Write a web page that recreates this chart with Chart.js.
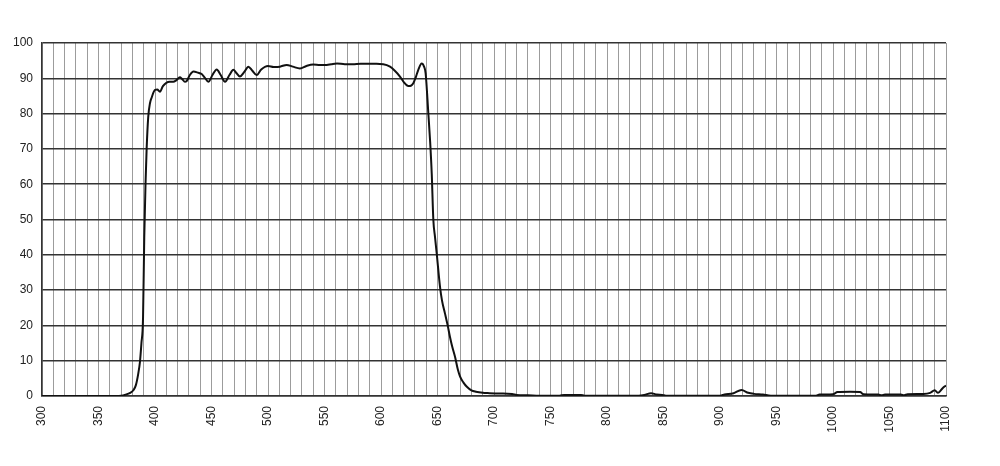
<!DOCTYPE html>
<html>
<head>
<meta charset="utf-8">
<script src="https://cdn.jsdelivr.net/npm/chart.js@4/dist/chart.umd.min.js"></script>
<style>
html,body{margin:0;padding:0;background:#fff;}
#wrap{width:1000px;height:466px;position:relative;}
</style>
</head>
<body>
<div id="wrap"><canvas id="c"></canvas></div>
<script>
const wavelengths = [300,320,340,360,370,374,378,381,383,385,386.7,388,389.4,390.5,391.6,392.6,394,395.6,397,400,402,404.4,407,410.3,413,416.2,419,422,424,426.5,428,431,434,438,441.3,444,447.2,451,454.6,458,462,466,469.3,472,475.2,479,482.6,486,490,494,500,505,510.6,516.5,522,528.3,534,540,546,552,556,561,568,575,582,590,596,602,608,612,616.8,620,624.2,626.5,628.6,631,633,636,638,639.5,641.9,643.5,644.9,646.3,647.8,649.3,652.2,654,656.6,659,661,663,665.5,668,670,673,676,680,684,690,696,705,716,720,730,740,758,762,777,780,800,828,833,839,844,849,852,880,900,904,912,919,925,930,938,945,985,988,1000,1004,1015,1024,1027,1040,1043,1046,1060,1063,1066,1080,1086,1090,1093,1097,1100];
const transmission = [0,0,0,0,0.1,0.4,0.9,1.7,3,6,9.7,15,22,45,60,70,79,83,84.5,86.7,86.8,86.2,87.8,88.8,89,89,89.5,90.3,89.8,89,89.2,91,91.9,91.6,91.2,90.2,89,91,92.5,91,89,91,92.4,91.5,90.5,91.8,93.3,92.2,90.9,92.5,93.5,93.2,93.3,93.8,93.3,92.8,93.5,93.9,93.8,93.8,94,94.2,94,94,94.1,94.1,94.1,94,93.3,92.2,90.5,89,87.8,87.9,88.6,90.5,92.4,94.2,93.4,91.4,80,72,63,50,45,40.4,31,27,23.4,20,16.8,14,11.1,7.5,5.5,3.8,2.6,1.6,1.2,0.9,0.8,0.7,0.6,0.3,0.2,0.1,0.1,0.3,0.3,0.1,0.1,0.1,0.3,0.8,0.4,0.3,0.1,0.1,0.1,0.4,0.8,1.7,0.9,0.6,0.4,0.1,0.1,0.4,0.5,1.1,1.2,1.1,0.5,0.4,0.2,0.4,0.4,0.2,0.5,0.6,0.9,1.6,0.9,2.2,3.0];
const xMin = 300, xMax = 1100, xGridStep = 10, xLabelStep = 50;
const yMin = 0, yMax = 100, yStep = 10;

const points = wavelengths.map((w, i) => ({x: w, y: transmission[i]}));

new Chart(document.getElementById('c'), {
  type: 'line',
  data: {
    datasets: [{
      data: points,
      borderColor: '#111',
      borderWidth: 2,
      pointRadius: 0,
      cubicInterpolationMode: 'monotone',
      fill: false
    }]
  },
  options: {
    responsive: true,
    maintainAspectRatio: false,
    animation: false,
    layout: {padding: {left: 0, top: 43, right: 54, bottom: 0}},
    plugins: {legend: {display: false}, tooltip: {enabled: false}},
    scales: {
      x: {
        type: 'linear',
        min: xMin, max: xMax,
        afterFit: s => { s.height = 70; },
        border: {display: true, color: '#333', width: 1.5},
        grid: {color: '#9c9c9c', lineWidth: 1, drawTicks: false},
        ticks: {
          stepSize: xGridStep,
          autoSkip: false,
          maxRotation: 90, minRotation: 90,
          padding: 10,
          color: '#222',
          font: {family: 'Liberation Sans, Arial, sans-serif', size: 12},
          callback: v => (v % xLabelStep === 0 ? String(v) : '')
        }
      },
      y: {
        min: yMin, max: yMax,
        afterFit: s => { s.width = 42; },
        border: {display: true, color: '#333', width: 1.5},
        grid: {color: '#333', lineWidth: 1.5, drawTicks: false},
        ticks: {
          stepSize: yStep,
          padding: 9,
          color: '#222',
          font: {family: 'Liberation Sans, Arial, sans-serif', size: 12}
        }
      }
    }
  }
});
</script>
</body>
</html>
